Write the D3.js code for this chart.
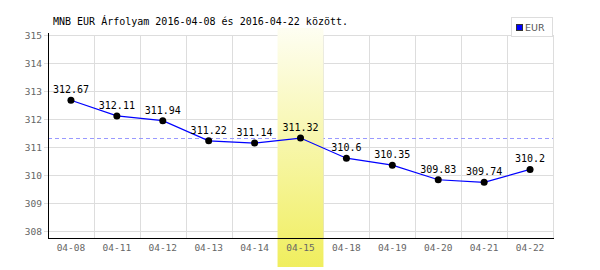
<!DOCTYPE html>
<html>
<head>
<meta charset="utf-8">
<script src="https://cdn.jsdelivr.net/npm/d3@7"></script>
<style>
  body { margin: 0; background: #fff; }
  svg { display: block; }
</style>
</head>
<body>
<svg id="chart" width="600" height="270"></svg>
<script>
// data
var dates = ["04-08", "04-11", "04-12", "04-13", "04-14", "04-15", "04-18", "04-19", "04-20", "04-21", "04-22"];
var rates = [312.67, 312.11, 311.94, 311.22, 311.14, 311.32, 310.6, 310.35, 309.83, 309.74, 310.2];
var yTicks = [308, 309, 310, 311, 312, 313, 314, 315];
var avgLine = 311.31;
var highlightDate = "04-15";
var seriesName = "EUR";
var title = "MNB EUR Árfolyam 2016-04-08 és 2016-04-22 között.";

var svg = d3.select("#chart");
var mono = "'DejaVu Sans Mono', monospace";

// plot box ("top" is taken by window.top, so use other names)
var plotLeft = 48, plotRight = 553, plotTop = 35, plotBottom = 238;

var x = d3.scaleBand()
  .domain(dates)
  .range([plotLeft, plotRight])
  .padding(0);

var y = d3.scaleLinear()
  .domain([307.75, 315])
  .range([plotBottom, plotTop]);

var defs = svg.append("defs");
var grad = defs.append("linearGradient")
  .attr("id", "hl")
  .attr("x1", 0).attr("y1", 0).attr("x2", 0).attr("y2", 1);
grad.append("stop").attr("offset", "0%").attr("stop-color", "#fefef2");
grad.append("stop").attr("offset", "100%").attr("stop-color", "#f0ee5e");

// grid
var grid = svg.append("g");
grid.selectAll("line.h")
  .data(yTicks)
  .enter().append("line")
  .attr("x1", plotLeft - 4).attr("x2", plotRight)
  .attr("y1", function(d){ return Math.round(y(d)) + 0.5; })
  .attr("y2", function(d){ return Math.round(y(d)) + 0.5; })
  .attr("stroke", "#dddddd");

grid.selectAll("line.v")
  .data(dates.slice(1).concat(["end"]))
  .enter().append("line")
  .attr("x1", function(d){ return Math.round(d == "end" ? plotRight : x(d)) + 0.5; })
  .attr("x2", function(d){ return Math.round(d == "end" ? plotRight : x(d)) + 0.5; })
  .attr("y1", plotTop)
  .attr("y2", plotBottom)
  .attr("stroke", "#dddddd");

// average line
svg.append("line")
  .attr("x1", plotLeft).attr("x2", plotRight)
  .attr("y1", Math.round(y(avgLine)) + 0.5)
  .attr("y2", Math.round(y(avgLine)) + 0.5)
  .attr("stroke", "#9999ff")
  .attr("stroke-dasharray", "4,3");

// highlighted day
svg.append("rect")
  .attr("x", x(highlightDate))
  .attr("y", 28)
  .attr("width", x.bandwidth())
  .attr("height", 267 - 28)
  .attr("fill", "url(#hl)");

// axes
svg.append("line")
  .attr("x1", plotLeft + 0.5).attr("x2", plotLeft + 0.5)
  .attr("y1", plotTop - 2).attr("y2", plotBottom + 0.5)
  .attr("stroke", "#000");
svg.append("line")
  .attr("x1", plotLeft).attr("x2", plotRight + 1)
  .attr("y1", plotBottom + 0.5).attr("y2", plotBottom + 0.5)
  .attr("stroke", "#000");

svg.selectAll("text.ytick")
  .data(yTicks)
  .enter().append("text")
  .attr("x", 42)
  .attr("y", function(d){ return y(d) + 4; })
  .attr("text-anchor", "end")
  .style("font-family", mono)
  .style("font-size", "9.5px")
  .attr("fill", "#666")
  .text(function(d){ return d; });

svg.selectAll("text.xtick")
  .data(dates)
  .enter().append("text")
  .attr("x", function(d){ return x(d) + x.bandwidth() / 2; })
  .attr("y", 251)
  .attr("text-anchor", "middle")
  .style("font-family", mono)
  .style("font-size", "9.5px")
  .attr("fill", "#666")
  .text(function(d){ return d; });

// series
var pts = dates.map(function(d, i){ return {date: d, value: rates[i]}; });
var line = d3.line()
  .x(function(d){ return x(d.date) + x.bandwidth() / 2; })
  .y(function(d){ return y(d.value); });

svg.append("path")
  .attr("d", line(pts))
  .attr("fill", "none")
  .attr("stroke", "#0000ff")
  .attr("stroke-width", 1.2);

svg.selectAll("circle.pt")
  .data(pts)
  .enter().append("circle")
  .attr("cx", function(d){ return x(d.date) + x.bandwidth() / 2; })
  .attr("cy", function(d){ return y(d.value); })
  .attr("r", 3.5)
  .attr("fill", "#000");

svg.selectAll("text.lbl")
  .data(pts)
  .enter().append("text")
  .attr("x", function(d){ return x(d.date) + x.bandwidth() / 2; })
  .attr("y", function(d){ return y(d.value) - 7; })
  .attr("text-anchor", "middle")
  .style("font-family", mono)
  .style("font-size", "10px")
  .attr("fill", "#000")
  .text(function(d){ return d.value; });

// title
svg.append("text")
  .attr("x", 53)
  .attr("y", 25)
  .style("font-family", mono)
  .style("font-size", "10px")
  .attr("fill", "#000")
  .text(title);

// legend
var legend = svg.append("g");
legend.append("rect")
  .attr("x", 511.5).attr("y", 17.5)
  .attr("width", 41).attr("height", 19)
  .attr("fill", "#fff")
  .attr("stroke", "#dddddd");
legend.append("rect")
  .attr("x", 516.5).attr("y", 24.5)
  .attr("width", 6).attr("height", 6)
  .attr("fill", "#0000ff")
  .attr("stroke", "#333");
legend.append("text")
  .attr("x", 525)
  .attr("y", 31)
  .style("font-family", "'DejaVu Sans', sans-serif")
  .style("font-size", "9.5px")
  .attr("fill", "#555")
  .text(seriesName);
</script>
</body>
</html>
